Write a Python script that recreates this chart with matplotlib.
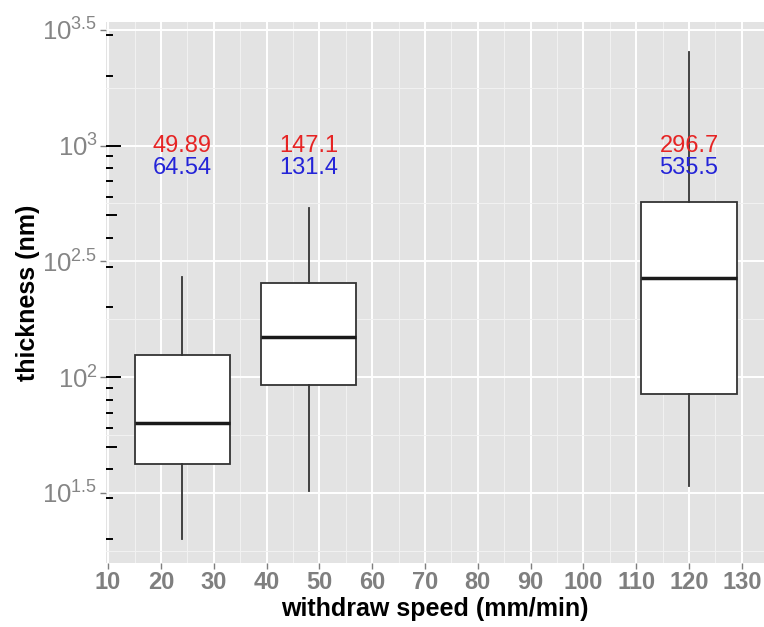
import numpy as np
import matplotlib
matplotlib.use("Agg")
import matplotlib.pyplot as plt

plt.rcParams['font.family'] = ['Liberation Sans', 'DejaVu Sans']
plt.rcParams['mathtext.fontset'] = 'custom'
plt.rcParams['mathtext.rm'] = 'Liberation Sans'
plt.rcParams['mathtext.it'] = 'Liberation Sans:italic'
plt.rcParams['mathtext.bf'] = 'Liberation Sans:bold'

# withdraw speed (mm/min) and box statistics of thickness (nm)
speeds = [24, 48, 120]
whisker_low = [19.9, 32.3, 33.9]
q1 = [42.1, 92.5, 84.5]
median = [63.5, 149.6, 267.3]
q3 = [124.2, 254.7, 570.2]
whisker_high = [270.4, 538.3, 2547.0]

# numbers printed over each box
red_vals = ['49.89', '147.1', '296.7']
blue_vals = ['64.54', '131.4', '535.5']

fig = plt.figure(figsize=(7.64, 6.27), dpi=100)
ax = fig.add_axes([106/764, 1-563/627, (764-106)/764, (563-22)/627])
ax.set_facecolor('#E3E3E3')
for s in ax.spines.values():
    s.set_visible(False)

ax.set_yscale('log')
ax.set_xlim(9.6, 134.2)
ax.set_ylim(10**1.197, 10**3.534)

# grid like ggplot
ax.set_xticks(np.arange(10, 131, 10))
ax.set_xticks(np.arange(15, 131, 10), minor=True)
yt = 10**np.arange(1.5, 3.51, 0.5)
ax.set_yticks(yt)
ax.set_yticks(10**np.arange(1.25, 3.51, 0.5), minor=True)
ax.set_yticklabels([r'$\mathregular{10^{%g}}$' % e for e in np.arange(1.5, 3.51, 0.5)])
ax.grid(which='major', color='white', lw=1.4)
ax.grid(which='minor', color='#F2F2F2', lw=0.7)
ax.set_axisbelow(True)

ax.tick_params(which='major', length=4, width=1, color='#7F7F7F', pad=2)
ax.tick_params(which='minor', length=0)
ax.tick_params(axis='y', labelsize=18.5, labelcolor='#858585')
ax.tick_params(axis='x', labelsize=17, labelcolor='#7F7F7F')
for lab in ax.get_xticklabels():
    lab.set_fontweight('bold')

# log tick marks inside the left edge
ytr = ax.get_yaxis_transform()
for dec in [10, 100, 1000]:
    for m in range(1, 10):
        v = m * dec
        if m == 1:
            L = 14
        elif m == 5:
            L = 10
        else:
            L = 6
        ax.plot([0, L/658], [v, v], color='black', lw=1.4, transform=ytr,
                clip_on=True, zorder=1.5)

stats = []
for i in range(len(speeds)):
    stats.append({'whislo': whisker_low[i], 'q1': q1[i], 'med': median[i],
                  'q3': q3[i], 'whishi': whisker_high[i], 'fliers': []})
ax.bxp(stats, positions=speeds, widths=18, showcaps=False, patch_artist=True,
       boxprops=dict(facecolor='white', edgecolor='#333333', lw=1.3),
       whiskerprops=dict(color='#333333', lw=1.3),
       medianprops=dict(color='#1A1A1A', lw=2.5), manage_ticks=False,
       zorder=3)

for x, r, b in zip(speeds, red_vals, blue_vals):
    ax.text(x, 1000, r, color='#E62424', fontsize=17, ha='center', va='center', zorder=4)
    ax.text(x, 800, b, color='#2424D8', fontsize=17, ha='center', va='center', zorder=4)

ax.set_xlabel('withdraw speed (mm/min)', fontsize=18, fontweight='bold', labelpad=2)
ax.set_ylabel('thickness (nm)', fontsize=18, fontweight='bold', labelpad=2)

fig.savefig('out.png', dpi=100)
